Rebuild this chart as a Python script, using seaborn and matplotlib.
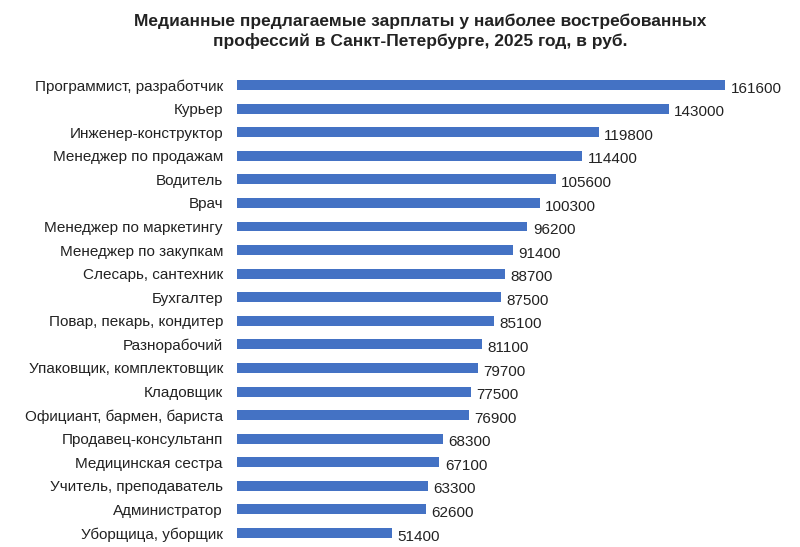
import matplotlib
matplotlib.use("Agg")
import matplotlib.pyplot as plt
import seaborn as sns
import pandas as pd

professions = ["Программист, разработчик", "Курьер", "Инженер-конструктор", "Менеджер по продажам",
               "Водитель", "Врач", "Менеджер по маркетингу", "Менеджер по закупкам",
               "Слесарь, сантехник", "Бухгалтер", "Повар, пекарь, кондитер", "Разнорабочий",
               "Упаковщик, комплектовщик", "Кладовщик", "Официант, бармен, бариста",
               "Продавец-консультанп", "Медицинская сестра", "Учитель, преподаватель",
               "Администратор", "Уборщица, уборщик"]
salaries = [161600, 143000, 119800, 114400, 105600, 100300, 96200, 91400, 88700, 87500,
            85100, 81100, 79700, 77500, 76900, 68300, 67100, 63300, 62600, 51400]

plt.rcParams["font.family"] = "Liberation Sans"
df = pd.DataFrame({"prof": professions, "sal": salaries})
fig = plt.figure(figsize=(8, 5.47), dpi=100)
ax = fig.add_axes([0.296, 0.004, 0.654, 0.862])
sns.barplot(data=df, x="sal", y="prof", color="#4472C4", width=0.42, ax=ax, saturation=1)
ax.set_xlim(0, 173200)
ax.set_ylim(19.5, -0.5)
for i, v in enumerate(salaries):
    ax.text(v + 1800, i + 0.15, str(v), va="center", ha="left", fontsize=11, color="#222222")
ax.set_xlabel(""); ax.set_ylabel("")
ax.set_xticks([])
ax.tick_params(axis="y", length=0, labelsize=11, pad=10, labelcolor="#222222")
for s in ax.spines.values():
    s.set_visible(False)
fig.text(0.525, 0.975, "Медианные предлагаемые зарплаты у наиболее востребованных\nпрофессий в Санкт-Петербурге, 2025 год, в руб.",
         ha="center", va="top", fontsize=12.5, fontweight="bold", color="#222222", linespacing=1.3)
fig.savefig("out.png", dpi=100)
